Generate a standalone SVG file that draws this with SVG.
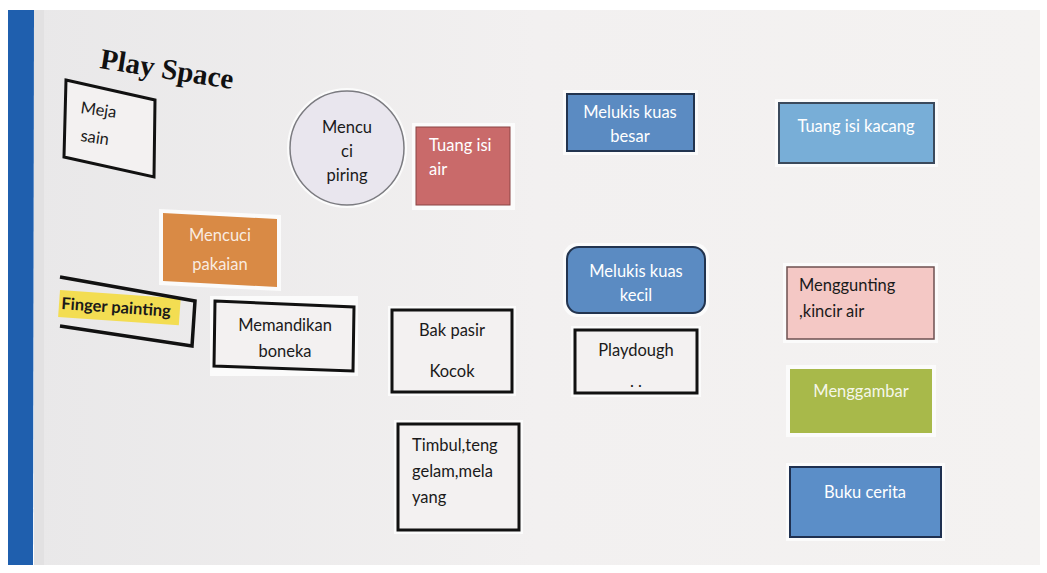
<svg xmlns="http://www.w3.org/2000/svg" width="1047" height="573" viewBox="0 0 1047 573">
<defs>
<style>
.t{font-family:Lato,"Liberation Sans",sans-serif;font-size:16.5px;fill:#1a1a1a}
.w{fill:#ffffff}
.c{text-anchor:middle}
.box{fill:#f3f1f1;stroke:#111;stroke-width:3}
.paper{fill:#fbfbfb}
</style>
<linearGradient id="bg" x1="0" y1="0" x2="1" y2="0">
<stop offset="0" stop-color="#e9e8e9"/>
<stop offset="0.5" stop-color="#f2f0f0"/>
<stop offset="1" stop-color="#f4f2f1"/>
</linearGradient>
</defs>
<rect x="0" y="0" width="1047" height="573" fill="#ffffff"/>
<rect x="34" y="10" width="1006" height="555" fill="url(#bg)"/>
<polygon points="8,10 34,10 33,565 8,565" fill="#1f5fae"/>
<rect x="34" y="10" width="10" height="555" fill="#e2e1e2"/>

<g id="title">
<text x="99" y="68" transform="rotate(9 99 68)" font-family="'Liberation Serif',serif" font-weight="bold" font-size="29" fill="#111">Play Space</text>
</g>

<g id="meja-sain">
<polygon points="66,80 155,100 154,177 64,157" class="box"/>
<text class="t" transform="rotate(8 80 113)" x="80" y="113">Meja</text>
<text class="t" transform="rotate(8 80 141)" x="80" y="141">sain</text>
</g>

<g id="mencuci-piring">
<circle cx="347" cy="148" r="60" class="paper"/>
<circle cx="347" cy="148" r="57" fill="#e9e6ee" stroke="#7b7b80" stroke-width="1.5"/>
<text class="t c" x="347" y="133">Mencu</text>
<text class="t c" x="347" y="157">ci</text>
<text class="t c" x="347" y="181">piring</text>
</g>

<g id="tuang-isi-air">
<rect x="412" y="123" width="103" height="87" class="paper"/>
<rect x="416" y="127" width="94" height="78" fill="#c96a6a" stroke="#8a4545" stroke-width="1"/>
<text class="t w" x="429" y="151">Tuang isi</text>
<text class="t w" x="429" y="175">air</text>
</g>

<g id="melukis-kuas-besar">
<rect x="563" y="90" width="135" height="65" class="paper"/>
<rect x="567" y="94" width="127" height="57" fill="#5b8bc2" stroke="#22344f" stroke-width="2"/>
<text class="t w c" x="630" y="118">Melukis kuas</text>
<text class="t w c" x="630" y="142">besar</text>
</g>

<g id="tuang-isi-kacang">
<rect x="775" y="99" width="163" height="68" class="paper"/>
<rect x="779" y="103" width="155" height="60" fill="#78aed7" stroke="#3b4a5c" stroke-width="2"/>
<text class="t w c" x="856" y="132">Tuang isi kacang</text>
</g>

<g id="mencuci-pakaian">
<polygon points="159,209 281,215 281,291 159,285" class="paper"/>
<polygon points="163,213 277,219 277,287 163,281" fill="#d98a45"/>
<text class="t w c" x="220" y="241" fill-opacity="0.85">Mencuci</text>
<text class="t w c" x="220" y="270" fill-opacity="0.85">pakaian</text>
</g>

<g id="finger-painting">
<rect x="60" y="290" width="121" height="27" fill="#f3dd52" transform="rotate(4 60 290)"/>
<polyline points="60,277 195,301 192,346 60,326" fill="none" stroke="#111" stroke-width="3.5"/>
<text class="t" x="61" y="309" transform="rotate(4 61 309)" font-weight="bold" font-size="17">Finger painting</text>
</g>

<g id="memandikan-boneka">
<rect x="210" y="296" width="148" height="80" class="paper"/>
<polygon points="215,301 354,307 353,371 214,366" class="box"/>
<text class="t c" x="285" y="331">Memandikan</text>
<text class="t c" x="285" y="357">boneka</text>
</g>

<g id="bak-pasir-kocok">
<rect x="388" y="306" width="128" height="90" class="paper"/>
<rect x="392" y="310" width="120" height="82" class="box"/>
<text class="t c" x="452" y="336">Bak pasir</text>
<text class="t c" x="452" y="377">Kocok</text>
</g>

<g id="melukis-kuas-kecil">
<rect x="563" y="243" width="146" height="74" rx="14" class="paper"/>
<rect x="567" y="247" width="138" height="66" rx="12" fill="#5b8bc2" stroke="#22344f" stroke-width="2"/>
<text class="t w c" x="636" y="277">Melukis kuas</text>
<text class="t w c" x="636" y="301">kecil</text>
</g>

<g id="playdough">
<rect x="571" y="326" width="130" height="71" class="paper"/>
<rect x="575" y="330" width="122" height="63" class="box"/>
<text class="t c" x="636" y="356">Playdough</text>
<text class="t c" x="636" y="387">. .</text>
</g>

<g id="timbul">
<rect x="394" y="420" width="129" height="114" class="paper"/>
<rect x="398" y="424" width="121" height="106" class="box"/>
<text class="t" x="412" y="451">Timbul,teng</text>
<text class="t" x="412" y="477">gelam,mela</text>
<text class="t" x="412" y="503">yang</text>
</g>

<g id="menggunting">
<rect x="783" y="263" width="155" height="80" class="paper"/>
<rect x="787" y="267" width="147" height="72" fill="#f4c8c5" stroke="#6e5050" stroke-width="1.5"/>
<text class="t" x="799" y="291">Menggunting</text>
<text class="t" x="799" y="317">,kincir air</text>
</g>

<g id="menggambar">
<rect x="786" y="365" width="150" height="72" class="paper"/>
<rect x="790" y="369" width="142" height="64" fill="#a8b94a"/>
<text class="t w c" x="861" y="397" fill-opacity="0.9">Menggambar</text>
</g>

<g id="buku-cerita">
<rect x="786" y="463" width="159" height="78" class="paper"/>
<rect x="790" y="467" width="151" height="70" fill="#5b8ec8" stroke="#1f3050" stroke-width="2"/>
<text class="t w c" x="865" y="498">Buku cerita</text>
</g>

<g id="connectors"/>
</svg>
